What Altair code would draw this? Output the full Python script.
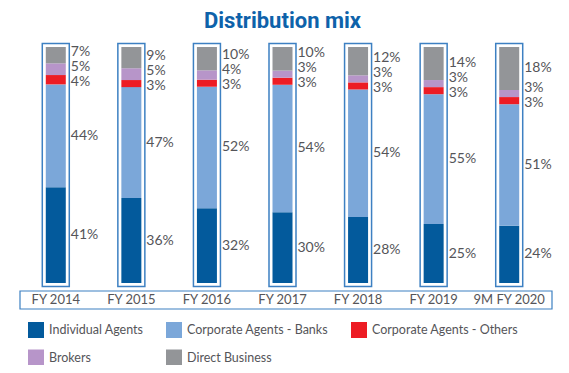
import altair as alt
import pandas as pd

categories = ["FY 2014", "FY 2015", "FY 2016", "FY 2017", "FY 2018", "FY 2019", "9M FY 2020"]
series = ["Individual Agents", "Corporate Agents - Banks", "Corporate Agents - Others", "Brokers", "Direct Business"]
individual = [41, 36, 32, 30, 28, 25, 24]
banks = [44, 47, 52, 54, 54, 55, 51]
others = [4, 3, 3, 3, 3, 3, 3]
brokers = [5, 5, 4, 3, 3, 3, 3]
direct = [7, 9, 10, 10, 12, 14, 18]
colors = ["#035a9c", "#7ba7d9", "#ed1c24", "#b795c9", "#939598"]

H = 236
W = 529
MIN_GAP = 15 / H

rows = []
for i, cat in enumerate(categories):
    vals = [individual[i], banks[i], others[i], brokers[i], direct[i]]
    tot = sum(vals)
    start = 0.0
    segs = []
    for s, v in zip(series, vals):
        end = start + v / tot
        segs.append(dict(cat=cat, series=s, order=series.index(s), value=v,
                         start=start, end=end, label=f"{v}%", pos=(start + end) / 2))
        start = end
    # the small red segment's label sits slightly low, upper labels pushed upward
    segs[2]["pos"] -= 2 / H
    for j in range(3, len(segs)):
        segs[j]["pos"] = max(segs[j]["pos"], segs[j - 1]["pos"] + MIN_GAP)
    rows.extend(segs)

df = pd.DataFrame(rows)
cats_df = pd.DataFrame({"cat": categories})

font = "Lato"
grey = "#555559"
xscale = alt.Scale(domain=categories, paddingInner=0, paddingOuter=0)
yscale = alt.Scale(domain=[0, 1])
legend_order = ["Individual Agents", "Brokers", "Corporate Agents - Banks",
                "Direct Business", "Corporate Agents - Others"]

bars = alt.Chart(df).mark_bar(size=20).encode(
    x=alt.X("cat:N", scale=xscale, sort=categories,
            axis=alt.Axis(title=None, labelAngle=0, labelAlign="center", ticks=False,
                          domain=False, labelPadding=10, labelFontSize=13, labelColor=grey,
                          labelFont=font, labelBaseline="top")),
    y=alt.Y("start:Q", scale=yscale, axis=None),
    y2="end:Q",
    color=alt.Color("series:N", scale=alt.Scale(domain=series, range=colors),
                    legend=alt.Legend(title=None, orient="none", legendX=10, legendY=275,
                                      values=legend_order,
                                      columns=3, symbolType="square", symbolSize=256,
                                      symbolStrokeWidth=0, symbolOpacity=1, labelFontSize=12.5,
                                      labelFont=font, labelColor=grey, labelOffset=5,
                                      rowPadding=11.5, columnPadding=22, padding=0,
                                      labelLimit=300)),
    order=alt.Order("order:Q"),
)

outline = alt.Chart(cats_df).mark_bar(size=27, filled=False, stroke="#3d80c2",
                                      strokeWidth=1.5).encode(
    x=alt.X("cat:N", scale=xscale, sort=categories),
    y=alt.value(-3.5),
    y2=alt.value(H + 3.5),
)

labels = alt.Chart(df).mark_text(align="left", baseline="middle", dx=15, fontSize=14,
                                 font=font, color=grey).encode(
    x=alt.X("cat:N", scale=xscale, sort=categories),
    y=alt.Y("pos:Q", scale=yscale),
    text="label:N",
)

box = alt.Chart(pd.DataFrame({"k": [0]})).mark_rect(filled=False, stroke="#3d80c2",
                                                   strokeWidth=1.2).encode(
    x=alt.value(2), x2=alt.value(534), y=alt.value(H + 8), y2=alt.value(H + 26),
)

chart = alt.layer(outline, bars, labels, box).properties(
    width=W, height=H,
    title=alt.Title("Distribution mix", fontSize=22, fontWeight="bold", color="#0e62aa",
                    font="Roboto", anchor="middle", offset=10),
    autosize=alt.AutoSizeParams(type="none"),
    padding={"left": 10, "top": 39, "right": 14, "bottom": 82},
).configure_view(stroke=None)

chart.save("out.html", embed_options={"renderer": "svg", "actions": False})
